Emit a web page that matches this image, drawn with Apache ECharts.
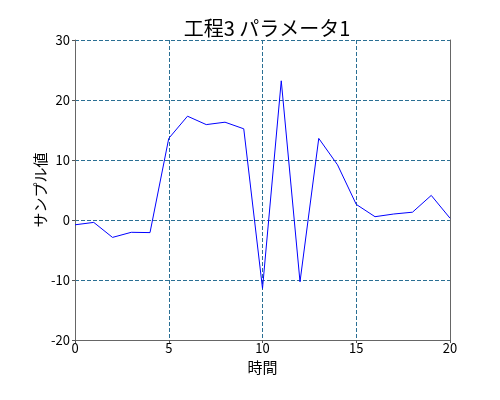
<!DOCTYPE html>
<html>
<head>
<meta charset="utf-8">
<script src="https://cdn.jsdelivr.net/npm/echarts@6/dist/echarts.min.js"></script>
<style>
  html, body { margin: 0; padding: 0; background: #fff; }
  #chart { width: 500px; height: 400px; }
</style>
</head>
<body>
<div id="chart"></div>
<script>
// データ
var timeData = [0, 1, 2, 3, 4, 5, 6, 7, 8, 9, 10, 11, 12, 13, 14, 15, 16, 17, 18, 19, 20];
var sampleData = [-0.8, -0.4, -2.9, -2.05, -2.1, 13.6, 17.3, 15.9, 16.3, 15.2,
                  -11.4, 23.2, -10.3, 13.6, 9.2, 2.6, 0.55, 1.0, 1.3, 4.1, 0.3];
var titleText = '工程3 パラメータ1';
var xName = '時間';
var yName = 'サンプル値';

var font = '"Noto Sans CJK JP", "DejaVu Sans", sans-serif';
var gridLine = {
    show: true,
    lineStyle: { color: '#2a6f93', type: [4, 2], width: 1 }
};
var spine = { show: true, onZero: false, lineStyle: { color: '#666' } };

var option = {
    animation: false,
    title: {
        text: titleText,
        left: 262,
        textAlign: 'center',
        top: 13,
        textStyle: { fontFamily: font, fontSize: 20, fontWeight: 'normal', color: '#000' }
    },
    grid: { left: 75, right: 50, top: 40, bottom: 60 },
    xAxis: {
        type: 'value',
        min: 0,
        max: 20,
        interval: 5,
        name: xName,
        nameLocation: 'middle',
        nameGap: 20,
        nameTextStyle: { fontFamily: font, fontSize: 15, color: '#000' },
        axisLine: spine,
        axisTick: { show: true, length: 3, lineStyle: { color: '#555' } },
        axisLabel: { fontFamily: font, fontSize: 13, color: '#000', margin: 2 },
        splitLine: gridLine
    },
    yAxis: [{
        type: 'value',
        min: -20,
        max: 30,
        interval: 10,
        name: yName,
        nameLocation: 'middle',
        nameGap: 27,
        nameMoveOverlap: false,
        nameTextStyle: { fontFamily: font, fontSize: 15, color: '#000' },
        axisLine: spine,
        axisTick: { show: true, length: 3, lineStyle: { color: '#555' } },
        axisLabel: { fontFamily: font, fontSize: 13, color: '#000', margin: 5 },
        splitLine: gridLine
    }, {
        // 右側の枠線
        type: 'value',
        position: 'right',
        min: -20,
        max: 30,
        interval: 10,
        axisLine: spine,
        axisTick: { show: false },
        axisLabel: { show: false },
        splitLine: { show: false }
    }],
    series: [{
        type: 'line',
        data: timeData.map(function (t, i) { return [t, sampleData[i]]; }),
        showSymbol: false,
        lineStyle: { color: '#0000ff', width: 1 },
        itemStyle: { color: '#0000ff' }
    }]
};

var chart = echarts.init(document.getElementById('chart'));
chart.setOption(option);
</script>
</body>
</html>
